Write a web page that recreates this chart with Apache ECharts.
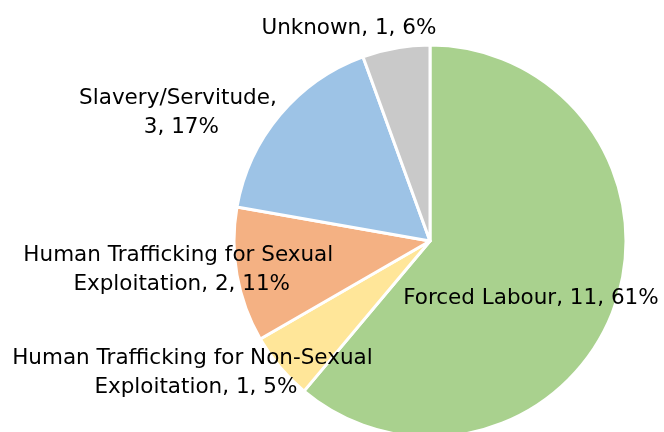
<!DOCTYPE html>
<html>
<head>
<meta charset="utf-8">
<title>Cases by type</title>
<script src="https://cdn.jsdelivr.net/npm/echarts@6/dist/echarts.min.js"></script>
<style>
    html, body { margin: 0; padding: 0; background: #fff; }
    #chart { width: 664px; height: 432px; }
</style>
</head>
<body>
<div id="chart"></div>
<script>
// data, clockwise from 12 o'clock
const categories = ['Forced Labour', 'Human Trafficking for Non-Sexual Exploitation', 'Human Trafficking for Sexual Exploitation', 'Slavery/Servitude', 'Unknown'];
const caseCounts = [11, 1, 2, 3, 1];
const percentLabels = ['61%', '5%', '11%', '17%', '6%'];

const sliceColors = ['#a9d18e', '#ffe699', '#f4b183', '#9dc3e6', '#c9c9c9'];
// label wrap widths and nudges (px) relative to where echarts puts them
const labelWidths = [null, 385, 335, 208, null];
const labelOffsets = [[6, 23], [140, -4], [147, -8], [37, 8], [63, -5]];

document.addEventListener('DOMContentLoaded', function() {
    const chart = echarts.init(document.getElementById('chart'));

    const seriesData = categories.map(function(name, i) {
        const item = {
            name: name,
            value: caseCounts[i],
            itemStyle: { color: sliceColors[i] },
            label: { position: i === 0 ? 'inside' : 'outside' }
        };
        if (labelWidths[i]) {
            item.label.width = labelWidths[i];
            item.label.overflow = 'break';
        }
        return item;
    });

    const option = {
        animation: false,
        series: [{
            type: 'pie',
            center: [430, 241],
            radius: 196,
            startAngle: 90,
            clockwise: true,
            avoidLabelOverlap: false,
            itemStyle: { borderColor: '#ffffff', borderWidth: 3 },
            label: {
                show: true,
                color: '#000',
                fontFamily: 'DejaVu Sans',
                fontSize: 21.5,
                lineHeight: 29,
                align: 'center',
                formatter: function(p) {
                    return p.name + ', ' + p.value + ', ' + percentLabels[p.dataIndex];
                }
            },
            labelLine: { show: false, length: 15, length2: 15 },
            labelLayout: function(p) {
                const off = labelOffsets[p.dataIndex];
                return {
                    x: p.labelRect.x + p.labelRect.width / 2 + off[0],
                    y: p.labelRect.y + p.labelRect.height / 2 + off[1],
                    align: 'center',
                    verticalAlign: 'middle'
                };
            },
            emphasis: { disabled: true },
            data: seriesData
        }]
    };

    chart.setOption(option);

    window.addEventListener('resize', function() {
        chart.resize();
    });
});
</script>
</body>
</html>
